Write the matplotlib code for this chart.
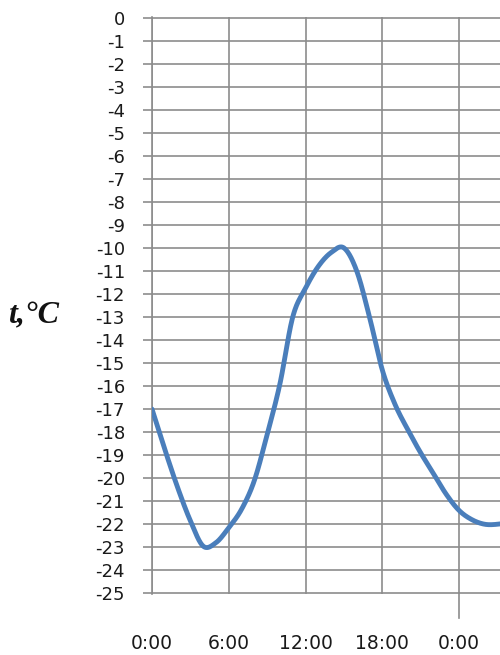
import numpy as np
import matplotlib
matplotlib.use("Agg")
import matplotlib.pyplot as plt

# Air temperature over a day, hourly readings (hours from midnight)
hours = [0, 1, 2, 3, 4, 5, 6, 7, 8, 9, 10, 11, 12, 13, 14, 15, 16, 17, 18,
         19, 20, 21, 22, 23, 24, 25, 26, 27, 28]
temps = [-17.0, -18.75, -20.4, -21.85, -22.95, -22.8, -22.15, -21.35, -20.1,
         -18.1, -15.9, -13.0, -11.75, -10.8, -10.2, -10.0, -11.0, -13.0,
         -15.3, -16.8, -17.9, -18.9, -19.8, -20.7, -21.4, -21.8, -22.0,
         -22.0, -21.9]

tick_hours = [0, 6, 12, 18, 24]
tick_labels = ["0:00", "6:00", "12:00", "18:00", "0:00"]
y_ticks = list(range(0, -26, -1))


def smooth(x, y, n=30):
    """Catmull-Rom spline through the points."""
    x = np.asarray(x, float)
    y = np.asarray(y, float)
    px = np.concatenate([[2 * x[0] - x[1]], x, [2 * x[-1] - x[-2]]])
    py = np.concatenate([[2 * y[0] - y[1]], y, [2 * y[-1] - y[-2]]])
    xs, ys = [], []
    t = np.linspace(0, 1, n, endpoint=False)
    for i in range(1, len(px) - 2):
        for arr, out in ((px, xs), (py, ys)):
            p0, p1, p2, p3 = arr[i - 1], arr[i], arr[i + 1], arr[i + 2]
            out.append(0.5 * ((2 * p1) + (-p0 + p2) * t
                              + (2 * p0 - 5 * p1 + 4 * p2 - p3) * t ** 2
                              + (-p0 + 3 * p1 - 3 * p2 + p3) * t ** 3))
    xs.append([x[-1]])
    ys.append([y[-1]])
    return np.concatenate(xs), np.concatenate(ys)


fig = plt.figure(figsize=(5.0, 6.55), dpi=100)
ax = fig.add_axes([0.304, 0.0931, 0.696, 0.881])

grid_color = "#8c8c8c"
ax.set_xlim(0, 27.2)
ax.set_ylim(-25.03, 0.03)

ax.set_yticks(y_ticks)
ax.set_yticklabels([str(v) for v in y_ticks])
ax.set_xticks(tick_hours)
ax.set_xticklabels(tick_labels)

ax.grid(True, color=grid_color, linewidth=1.2, zorder=1)
ax.set_axisbelow(True)
for side in ("top", "right", "bottom"):
    ax.spines[side].set_visible(False)
ax.spines["left"].set_color(grid_color)
ax.spines["left"].set_linewidth(1.2)

ax.tick_params(axis="y", length=6.5, width=1.2, color=grid_color, pad=13,
               labelsize=13, labelcolor="#1a1a1a")
ax.tick_params(axis="x", length=0, pad=28.5, labelsize=13.5,
               labelcolor="#1a1a1a")
for lab in ax.get_xticklabels() + ax.get_yticklabels():
    lab.set_fontfamily("DejaVu Sans")

# Midnight marker extends below the plot
ax.plot([24, 24], [-25, -26.05], color=grid_color, linewidth=1.2,
        clip_on=False, zorder=1)

sx, sy = smooth(hours, temps)
ax.plot(sx, sy, color="#4a7ebb", linewidth=3.5, solid_capstyle="round",
        zorder=3)

fig.text(0.068, 0.517, "t,°C", fontsize=23, fontweight="bold",
         fontstyle="italic", family="Liberation Serif", ha="center",
         va="center", color="#111111")

fig.savefig("out.png", dpi=100)
